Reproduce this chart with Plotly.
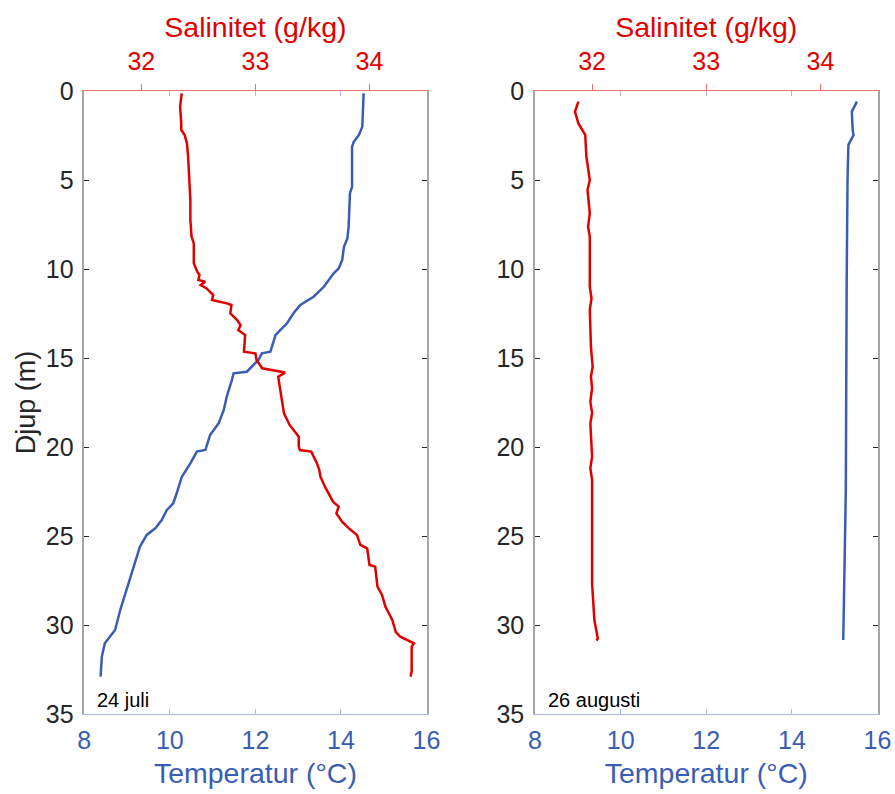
import plotly.graph_objects as go

# 24 juli
depth_T1 = [0.13, 1.25, 2.0, 2.47, 2.85, 3.13, 5.38, 5.75, 7.62, 8.28, 8.75, 9.49, 9.96, 10.24, 10.62, 11.0,
            11.56, 12.02, 12.49, 13.05, 13.43, 13.71, 14.65, 14.74, 15.11, 15.58, 15.77, 15.86, 16.24, 17.17,
            17.92, 18.67, 19.33, 20.17, 20.26, 20.92, 21.67, 22.6, 23.16, 23.54, 24.1, 24.57, 24.94, 25.6,
            26.72, 28.03, 29.16, 30.28, 31.03, 31.78, 32.9]
temp1 = [14.53, 14.52, 14.50, 14.42, 14.30, 14.26, 14.26, 14.21, 14.18, 14.15, 14.07, 14.03, 13.95, 13.83, 13.71, 13.60,
         13.36, 13.05, 12.89, 12.74, 12.58, 12.47, 12.35, 12.15, 12.07, 11.88, 11.80, 11.49, 11.45, 11.33,
         11.26, 11.14, 10.94, 10.83, 10.63, 10.48, 10.28, 10.16, 10.08, 9.93, 9.81, 9.66, 9.46, 9.30,
         9.15, 8.99, 8.84, 8.72, 8.48, 8.41, 8.38]

depth_S1 = [0.13, 0.88, 1.82, 2.19, 2.47, 2.94, 3.69, 5.0, 5.75, 6.12, 7.25, 8.18, 8.56, 9.68, 10.15, 10.34,
            10.62, 10.71, 10.9, 11.08, 11.46, 11.74, 11.93, 12.02, 12.49, 12.87, 13.15, 13.43, 13.71, 14.65,
            14.74, 15.11, 15.58, 15.67, 15.82, 16.05, 16.8, 17.17, 18.1, 18.76, 19.42, 19.98, 20.17, 20.26,
            20.92, 21.29, 21.67, 22.23, 22.6, 23.07, 23.35, 23.73, 24.2, 24.57, 24.94, 25.5, 25.69, 26.63,
            26.72, 27.85, 28.31, 28.97, 29.34, 29.72, 30.38, 30.66, 31.03, 31.22, 32.62, 32.9]
sal1 = [32.354, 32.34, 32.35, 32.35, 32.38, 32.40, 32.41, 32.42, 32.43, 32.43, 32.43, 32.44, 32.46, 32.46, 32.49, 32.51,
        32.50, 32.56, 32.52, 32.57, 32.63, 32.62, 32.75, 32.79, 32.78, 32.84, 32.87, 32.85, 32.91, 32.90,
        33.0, 33.01, 33.06, 33.14, 33.26, 33.20, 33.22, 33.23, 33.25, 33.30, 33.38, 33.38, 33.39, 33.49,
        33.54, 33.56, 33.57, 33.61, 33.64, 33.68, 33.73, 33.71, 33.76, 33.82, 33.89, 33.92, 33.98, 34.0,
        34.05, 34.07, 34.11, 34.14, 34.17, 34.20, 34.23, 34.27, 34.39, 34.37, 34.37, 34.36]

# 26 augusti
depth_T2 = [0.6, 1.16, 2.19, 2.47, 3.03, 5.0, 10.62, 17.17, 19.42, 22.42, 28.03, 30.84]
temp2 = [15.52, 15.40, 15.42, 15.44, 15.32, 15.30, 15.28, 15.27, 15.27, 15.26, 15.22, 15.20]

depth_S2 = [0.6, 1.16, 1.82, 2.47, 3.69, 5.0, 5.56, 6.87, 7.62, 8.18, 11.0, 11.65, 12.3, 14.37, 15.49, 16.05,
            16.7, 17.17, 17.45, 18.1, 18.67, 20.54, 21.2, 21.85, 25.6, 25.79, 27.66, 29.72, 30.75, 30.88]
sal2 = [31.88, 31.85, 31.88, 31.94, 31.95, 31.98, 31.96, 31.98, 31.965, 31.98, 31.98, 31.995, 31.98, 31.99, 32.005, 31.99,
        32.0, 31.99, 31.985, 32.0, 31.985, 32.0, 31.985, 32.0, 32.0, 31.995, 32.0, 32.02, 32.05, 32.04]

temp_ticks = [8, 10, 12, 14, 16]
sal_ticks = [32, 33, 34]
depth_ticks = [0, 5, 10, 15, 20, 25, 30, 35]
labels = ["24 juli", "26 augusti"]

RED = "#E00000"
BLUE = "#3A5DB4"
BLUE_LINE = "#A9B9E2"
RED_LINE = "#EE7070"
GRAY = "#A6A6A6"
TXT = "#262626"
FONT = "Liberation Sans, Arial, sans-serif"

fig = go.Figure()
fig.add_trace(go.Scatter(x=temp1, y=depth_T1, mode="lines", line=dict(color=BLUE, width=2.5),
                         xaxis="x", yaxis="y", showlegend=False))
fig.add_trace(go.Scatter(x=sal1, y=depth_S1, mode="lines", line=dict(color=RED, width=2.5),
                         xaxis="x2", yaxis="y", showlegend=False))
fig.add_trace(go.Scatter(x=temp2, y=depth_T2, mode="lines", line=dict(color=BLUE, width=2.5),
                         xaxis="x3", yaxis="y2", showlegend=False))
fig.add_trace(go.Scatter(x=sal2, y=depth_S2, mode="lines", line=dict(color=RED, width=2.5),
                         xaxis="x4", yaxis="y2", showlegend=False))

W, H = 895, 794
ydom = [1 - 714 / H, 1 - 91 / H]
dom1 = [84.3 / W, 426.5 / W]
dom2 = [535 / W, 877.5 / W]

def temp_axis(dom, anchor):
    return dict(domain=dom, anchor=anchor, range=[8, 16], tickvals=temp_ticks, side="bottom",
                ticks="inside", ticklen=5, tickcolor=BLUE_LINE, showline=True, linecolor=BLUE_LINE,
                linewidth=1.2, mirror="ticks", showgrid=False, zeroline=False, automargin=False,
                ticklabelstandoff=4,
                tickfont=dict(size=25, color=BLUE, family=FONT),
                title=dict(text="Temperatur (°C)", font=dict(size=28.5, color=BLUE, family=FONT), standoff=9))

def sal_axis(overlay, anchor):
    return dict(overlaying=overlay, anchor=anchor, side="top", range=[31.5, 34.5], tickvals=sal_ticks,
                ticks="outside", ticklen=6, tickcolor=RED_LINE, showline=True, linecolor=RED_LINE,
                linewidth=1.2, showgrid=False, zeroline=False, automargin=False,
                ticklabelstandoff=4,
                tickfont=dict(size=25, color=RED, family=FONT),
                title=dict(text="Salinitet (g/kg)", font=dict(size=28.5, color=RED, family=FONT), standoff=0))

def depth_axis(dom, anchor, title):
    d = dict(domain=ydom, anchor=anchor, range=[35, 0], tickvals=depth_ticks, ticks="inside", ticklen=5,
             tickcolor=TXT, showline=True, linecolor=GRAY, linewidth=1.5, mirror="ticks",
             showgrid=False, zeroline=False, automargin=False, ticklabelstandoff=4,
             tickfont=dict(size=25, color=TXT, family=FONT))
    if title:
        d["title"] = dict(text=title, font=dict(size=27, color=TXT, family=FONT), standoff=2)
    return d

fig.update_layout(
    width=W, height=H, margin=dict(l=0, r=0, t=0, b=0, autoexpand=False),
    plot_bgcolor="white", paper_bgcolor="white",
    xaxis=temp_axis(dom1, "y"),
    xaxis2=sal_axis("x", "y"),
    xaxis3=temp_axis(dom2, "y2"),
    xaxis4=sal_axis("x3", "y2"),
    yaxis=depth_axis(ydom, "x", "Djup (m)"),
    yaxis2=depth_axis(ydom, "x3", None),
)

for xr, yr, lab in [("x", "y", labels[0]), ("x3", "y2", labels[1])]:
    fig.add_annotation(x=8.25, y=34.2, xref=xr, yref=yr, text=lab, showarrow=False,
                       xanchor="left", yanchor="middle", font=dict(size=20, color="black", family=FONT))

fig.write_html("out.html")
